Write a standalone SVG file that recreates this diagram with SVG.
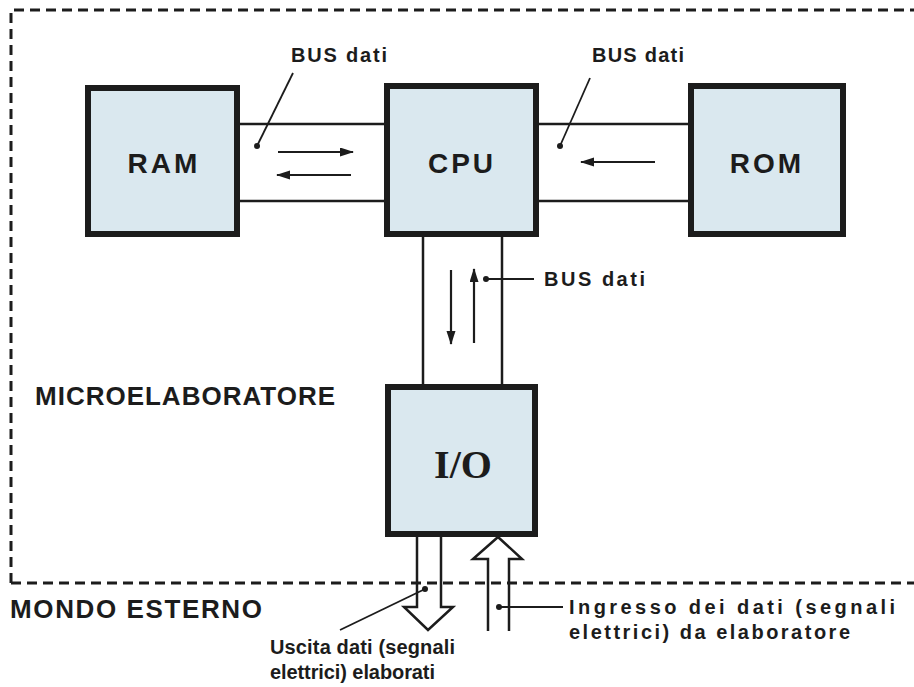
<svg xmlns="http://www.w3.org/2000/svg" width="914" height="687" viewBox="0 0 914 687">
<style>
.box{fill:#dae8ef;stroke:#1c1c1c;stroke-width:6}
.bt{font-family:"Liberation Sans",Arial,sans-serif;font-weight:bold;font-size:28px;fill:#1c1c1c;letter-spacing:3px}
.lbl{font-family:"Liberation Sans",Arial,sans-serif;font-weight:bold;font-size:20px;fill:#1c1c1c}
.big{font-family:"Liberation Sans",Arial,sans-serif;font-weight:bold;font-size:26px;fill:#1c1c1c}
.ln{stroke:#1c1c1c;stroke-width:2.5;fill:none}
.thin{stroke:#1c1c1c;stroke-width:1.8;fill:none}
.arr{stroke:#1c1c1c;stroke-width:2.2;fill:none;marker-end:url(#ah)}
.dash{stroke:#1c1c1c;stroke-width:3;fill:none;stroke-dasharray:10 6}
.dot{fill:#1c1c1c}
</style>
<defs>
<marker id="ah" markerUnits="userSpaceOnUse" markerWidth="14" markerHeight="10" refX="13" refY="4.5" orient="auto">
<path d="M0,0 L14,4.5 L0,9 z" fill="#1c1c1c"/>
</marker>
</defs>

<g id="boundary">
<path class="dash" d="M11,583 L11,10 L914,10"/>
<path class="dash" d="M11,583 L914,583"/>
</g>

<g id="connectors">
<line class="ln" x1="240" y1="124" x2="385" y2="124"/>
<line class="ln" x1="240" y1="201" x2="385" y2="201"/>
<line class="ln" x1="538" y1="124" x2="689" y2="124"/>
<line class="ln" x1="538" y1="201" x2="689" y2="201"/>
<line class="ln" x1="423" y1="237" x2="423" y2="385"/>
<line class="ln" x1="502" y1="237" x2="502" y2="385"/>
<line class="arr" x1="278" y1="152" x2="353" y2="152"/>
<line class="arr" x1="351" y1="175" x2="277" y2="175"/>
<line class="arr" x1="655" y1="162" x2="581" y2="162"/>
<line class="arr" x1="451" y1="270" x2="451" y2="344"/>
<line class="arr" x1="474" y1="343" x2="474" y2="269"/>
<path class="ln" d="M417,537 L417,607 L404,607 L428,630 L453,607 L441,607 L441,537"/>
<path class="ln" d="M488,631 L488,559 L473,559 L498,537 L522,559 L509,559 L509,631"/>
<line class="thin" x1="293" y1="73" x2="257" y2="146"/>
<circle class="dot" cx="257" cy="146" r="3"/>
<line class="thin" x1="590" y1="78" x2="560" y2="146"/>
<circle class="dot" cx="560" cy="146" r="3"/>
<line class="thin" x1="486" y1="279" x2="534" y2="279"/>
<circle class="dot" cx="486" cy="279" r="3"/>
<line class="thin" x1="340" y1="630" x2="425" y2="589"/>
<circle class="dot" cx="425" cy="589" r="3"/>
<line class="thin" x1="499" y1="607" x2="563" y2="607"/>
<circle class="dot" cx="499" cy="607" r="3"/>
</g>

<g id="ram">
<rect class="box" x="88" y="88" width="149" height="146"/>
<text class="bt" x="164" y="173" text-anchor="middle">RAM</text>
</g>
<g id="cpu">
<rect class="box" x="387" y="86" width="149" height="148"/>
<text class="bt" x="462" y="173" text-anchor="middle">CPU</text>
</g>
<g id="rom">
<rect class="box" x="691" y="86" width="152" height="148"/>
<text class="bt" x="767" y="173" text-anchor="middle">ROM</text>
</g>
<g id="io">
<rect class="box" x="388" y="387" width="147" height="147"/>
<text x="463" y="478" text-anchor="middle" font-family="'Liberation Serif','Times New Roman',serif" font-weight="bold" font-size="40" fill="#1c1c1c">I/O</text>
</g>

<g id="labels">
<text class="lbl" x="291" y="62" textLength="96" lengthAdjust="spacing">BUS dati</text>
<text class="lbl" x="592" y="62" textLength="92" lengthAdjust="spacing">BUS dati</text>
<text class="lbl" x="544" y="286" textLength="101" lengthAdjust="spacing">BUS dati</text>
<text class="big" x="35" y="405" textLength="300" lengthAdjust="spacing">MICROELABORATORE</text>
<text class="big" x="10" y="618" textLength="252" lengthAdjust="spacing">MONDO ESTERNO</text>
<text class="lbl" x="270" y="654" textLength="185" lengthAdjust="spacing">Uscita dati (segnali</text>
<text class="lbl" x="270" y="679" textLength="165" lengthAdjust="spacing">elettrici) elaborati</text>
<text class="lbl" x="569" y="614" textLength="326" lengthAdjust="spacing">Ingresso dei dati (segnali</text>
<text class="lbl" x="569" y="639" textLength="281" lengthAdjust="spacing">elettrici) da elaboratore</text>
</g>
</svg>
